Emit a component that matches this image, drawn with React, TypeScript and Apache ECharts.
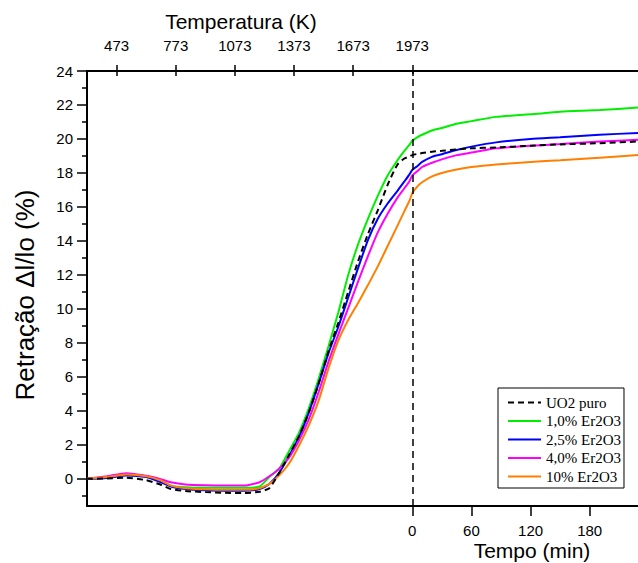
import React, { useEffect, useRef } from "react";
import * as echarts from "echarts";

// time (min) relative to the end of heating (0 = 1973 K)
const time = [-330, -310, -290, -270, -255, -245, -230, -210, -190, -170, -155, -145, -135, -125, -115, -105, -95, -85, -75, -65, -55, -45, -35, -25, -15, -8, -3, 0, 5, 10, 20, 30, 45, 60, 85, 120, 150, 190, 229];

const uo2Puro = [0, 0.02, 0.06, -0.08, -0.35, -0.6, -0.72, -0.78, -0.82, -0.84, -0.76, -0.55, 0.35, 1.4, 2.5, 3.9, 5.6, 7.5, 9.2, 11.0, 12.8, 14.4, 15.8, 17.3, 18.5, 18.85, 18.97, 19.05, 19.12, 19.17, 19.25, 19.3, 19.38, 19.45, 19.5, 19.6, 19.68, 19.75, 19.85];
const er10 = [0, 0.08, 0.25, 0.15, -0.15, -0.4, -0.5, -0.53, -0.53, -0.53, -0.45, 0.1, 0.6, 1.63, 2.7, 4.14, 5.88, 7.8, 9.8, 12.0, 13.8, 15.3, 16.65, 17.85, 18.75, 19.3, 19.65, 19.9, 20.1, 20.25, 20.5, 20.65, 20.9, 21.05, 21.3, 21.45, 21.6, 21.7, 21.85];
const er25 = [0, 0.05, 0.2, 0.1, -0.2, -0.45, -0.6, -0.68, -0.7, -0.7, -0.6, -0.3, 0.35, 1.35, 2.45, 3.9, 5.6, 7.4, 8.95, 10.67, 12.4, 14.05, 15.3, 16.2, 16.95, 17.5, 17.9, 18.18, 18.4, 18.65, 18.95, 19.1, 19.35, 19.55, 19.8, 20.0, 20.1, 20.25, 20.35];
const er40 = [0, 0.15, 0.33, 0.18, -0.02, -0.2, -0.33, -0.38, -0.4, -0.4, -0.2, 0.15, 0.6, 1.25, 2.25, 3.5, 5.1, 6.9, 8.5, 10.05, 11.6, 13.1, 14.5, 15.6, 16.55, 17.1, 17.5, 17.85, 18.1, 18.35, 18.6, 18.8, 19.05, 19.2, 19.45, 19.6, 19.7, 19.85, 19.95];
const er100 = [0, 0.1, 0.25, 0.15, -0.1, -0.4, -0.55, -0.62, -0.65, -0.65, -0.55, -0.3, 0.2, 0.9, 1.95, 3.15, 4.6, 6.5, 8.15, 9.35, 10.35, 11.4, 12.5, 13.7, 14.9, 15.75, 16.35, 16.8, 17.2, 17.45, 17.8, 18.0, 18.2, 18.35, 18.5, 18.65, 18.75, 18.9, 19.05];

const seriesNames = ["UO2 puro", "1,0% Er2O3", "2,5% Er2O3", "4,0% Er2O3", "10% Er2O3"];
const seriesColors = ["#000000", "#00ee00", "#0000ff", "#ff00ff", "#ff7f00"];

const timeTicks = [0, 60, 120, 180];
const tempTicksK = [473, 773, 1073, 1373, 1673, 1973];
const holdTempK = 1973;
const heatingRate = 5; // K/min
const yMajor = [0, 2, 4, 6, 8, 10, 12, 14, 16, 18, 20, 22, 24];
const yMinor = [-1, 1, 3, 5, 7, 9, 11, 13, 15, 17, 19, 21, 23];

const X_MIN = -330;
const X_MAX = 229;
const Y_MIN = -1.6;
const Y_MAX = 24;

const FONT = "'Liberation Sans', Arial, sans-serif";

export default function App() {
  const ref = useRef<HTMLDivElement>(null);
  useEffect(() => {
    document.body.style.margin = "0";
    const chart = echarts.init(ref.current!, null, { renderer: "svg" });
    const tempTickTimes = tempTicksK.map((k) => (k - holdTempK) / heatingRate);
    const allValues = [uo2Puro, er10, er25, er40, er100];
    const axisLine = { show: true, onZero: false, lineStyle: { color: "#000", width: 2 } };
    const noLine = { show: false, onZero: false };

    const series: any[] = allValues.map((vals, i) => ({
      name: seriesNames[i],
      type: "line",
      symbol: "none",
      smooth: 0.2,
      z: i === 0 ? 5 : 2,
      data: time.map((t, j) => [t, vals[j]]),
      lineStyle: {
        color: seriesColors[i],
        width: 2,
        type: i === 0 ? [6, 4] : "solid",
      },
      itemStyle: { color: seriesColors[i] },
      ...(i === 0
        ? {
            markLine: {
              silent: true,
              symbol: "none",
              label: { show: false },
              lineStyle: { color: "#000", width: 1.5, type: [7, 5] },
              data: [{ xAxis: 0 }],
            },
          }
        : {}),
    }));

    chart.setOption({
      animation: false,
      backgroundColor: "#fff",
      textStyle: { fontFamily: FONT },
      grid: { left: 87, right: 0, top: 71, bottom: 57, containLabel: false },
      legend: {
        orient: "vertical",
        left: 498,
        top: 388,
        padding: [7, 3, 4, 9],
        itemWidth: 33,
        itemHeight: 14,
        itemGap: 3.5,
        borderColor: "#000",
        borderWidth: 1,
        borderRadius: 0,
        backgroundColor: "#fff",
        itemStyle: { opacity: 0 },
        data: seriesNames,
        textStyle: { fontFamily: "'Liberation Serif', 'Times New Roman', serif", fontSize: 15, color: "#000" },
      },
      xAxis: [
        {
          type: "value",
          position: "bottom",
          min: X_MIN,
          max: X_MAX,
          axisLine,
          splitLine: { show: false },
          axisTick: { show: true, customValues: timeTicks, length: 10, lineStyle: { color: "#000", width: 1.5 } },
          axisLabel: { show: true, customValues: timeTicks, margin: 17, fontSize: 15, color: "#000", fontFamily: FONT },
        },
        {
          type: "value",
          position: "top",
          min: X_MIN,
          max: X_MAX,
          axisLine,
          splitLine: { show: false },
          axisTick: { show: true, customValues: tempTickTimes, length: 6, lineStyle: { color: "#000", width: 1.5 } },
          axisLabel: {
            show: true,
            customValues: tempTickTimes,
            margin: 18,
            fontSize: 15,
            color: "#000",
            fontFamily: FONT,
            formatter: (v: number) => String(Math.round(holdTempK + v * heatingRate)),
          },
        },
        {
          type: "value",
          position: "top",
          min: X_MIN,
          max: X_MAX,
          axisLine: noLine,
          splitLine: { show: false },
          axisTick: { show: true, inside: true, customValues: tempTickTimes, length: 5, lineStyle: { color: "#000", width: 1.5 } },
          axisLabel: { show: false },
        },
      ],
      yAxis: [
        {
          type: "value",
          position: "left",
          min: Y_MIN,
          max: Y_MAX,
          axisLine,
          splitLine: { show: false },
          axisTick: { show: true, customValues: yMajor, length: 10, lineStyle: { color: "#000", width: 1.5 } },
          axisLabel: { show: true, customValues: yMajor, margin: 14, fontSize: 15, color: "#000", fontFamily: FONT },
        },
        {
          type: "value",
          position: "left",
          min: Y_MIN,
          max: Y_MAX,
          axisLine: noLine,
          splitLine: { show: false },
          axisTick: { show: true, customValues: yMinor, length: 5, lineStyle: { color: "#000", width: 1.5 } },
          axisLabel: { show: false },
        },
      ],
      graphic: [
        {
          type: "text",
          x: 241,
          y: 21,
          style: { text: "Temperatura (K)", font: `21px ${FONT}`, fill: "#000", align: "center", verticalAlign: "middle" },
        },
        {
          type: "text",
          x: 532,
          y: 550,
          style: { text: "Tempo (min)", font: `21px ${FONT}`, fill: "#000", align: "center", verticalAlign: "middle" },
        },
        {
          type: "text",
          x: 25,
          y: 295,
          rotation: Math.PI / 2,
          style: { text: "Retração Δl/lo (%)", font: `26px ${FONT}`, fill: "#000", align: "center", verticalAlign: "middle" },
        },
      ],
      series,
    });
    return () => chart.dispose();
  }, []);
  return <div ref={ref} style={{ width: 638, height: 563 }} />;
}
